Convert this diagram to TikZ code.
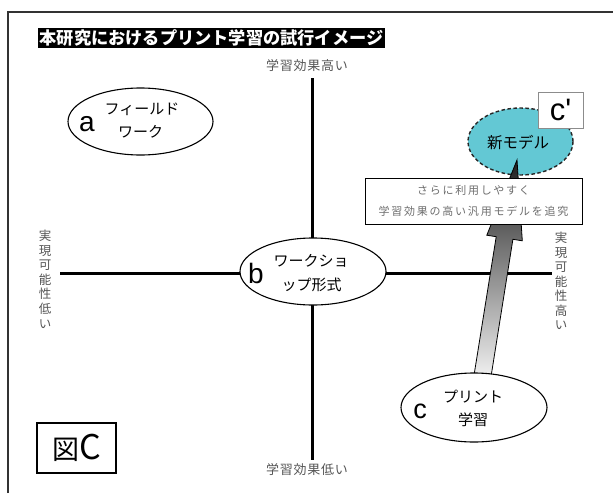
\documentclass[tikz,border=0pt]{standalone}
\usepackage{fontspec}
\setmainfont{Liberation Sans}
\newfontfamily\arial{Liberation Sans}
\newfontfamily\jp{Noto Sans CJK JP}
\newfontfamily\jpax[LetterSpace=6]{Noto Sans CJK JP}
\newfontfamily\jpsp[LetterSpace=16]{Noto Sans CJK JP}
\usetikzlibrary{shapes.geometric}
\definecolor{tealfill}{RGB}{99,200,212}
\definecolor{lblgray}{RGB}{85,85,85}
\definecolor{boxgray}{RGB}{110,110,110}
\newcommand\setfs[1]{\fontsize{#1}{#1}\selectfont}
\begin{document}
\begin{tikzpicture}[x=1pt,y=-1pt,
  oval/.style={ellipse, draw=black, line width=1.1pt, fill=white, inner sep=0pt},
  letter/.style={font=\arial\setfs{28}, inner sep=0pt},
  kana/.style={font=\jp\setfs{15}, inner sep=0pt},
  axlabel/.style={font=\jpax\setfs{13}, text=lblgray, inner sep=0pt},
  vlabel/.style={font=\jp\fontsize{12.5}{14.6}\selectfont, text=lblgray, align=center, inner sep=0pt},
  axis/.style={line width=3pt, draw=black}]
\useasboundingbox (0,0) rectangle (613,493);
% frame
\coordinate (fbl) at (8,493);
\coordinate (ftl) at (8,12);
\coordinate (ftr) at (613,12);
\draw[line width=1.4pt, draw=black!80] (fbl) -- (ftl) -- (ftr);
% title
\node[fill=black, text=white, font=\jp\bfseries\setfs{17.2}, inner xsep=1.5pt, inner ysep=1.5pt, anchor=west] (title) at (38,38) {本研究におけるプリント学習の試行イメージ};
% axes
\coordinate (vt) at (312,78);
\coordinate (vb) at (312,460);
\coordinate (hl) at (60,273);
\coordinate (hr) at (552,273);
\draw[axis] (vt) -- (vb);
\draw[axis] (hl) -- (hr);
% axis labels
\node[axlabel] (hi) at (307,66) {学習効果高い};
\node[axlabel] (lo) at (307,470) {学習効果低い};
\node[vlabel] (lowf) at (45,279) {実\\現\\可\\能\\性\\低\\い};
\node[vlabel] (highf) at (561,281) {実\\現\\可\\能\\性\\高\\い};
% ellipse a
\node[oval, minimum width=145pt, minimum height=67pt] (ea) at (140.5,121.5) {};
\node[letter] (la) at (87,124) {a};
\node[kana] (ta1) at (142,109) {フィールド};
\node[kana] (ta2) at (140.5,132) {ワーク};
% ellipse b
\node[oval, minimum width=146pt, minimum height=67pt] (eb) at (313,271.5) {};
\node[letter] (lb) at (256,273.5) {b};
\node[kana] (tb1) at (311,261) {ワークショ};
\node[kana] (tb2) at (311.5,285) {ップ形式};
% new model
\node[ellipse, draw=black!85, line width=1.4pt, dash pattern=on 3.5pt off 2.5pt, fill=tealfill, minimum width=105pt, minimum height=67pt, inner sep=0pt] (enew) at (520.5,141.5) {};
\node[font=\jp\setfs{15.5}, inner sep=0pt] (tnew) at (518,143) {新モデル};
% arrow
\shadedraw[top color=black!88, bottom color=black!3, draw=black, line width=0.8pt]
  (489.8,384.2) -- (473.0,381.6) -- (496.2,236.7) -- (486.8,235.2) -- (517,160)
  -- (522.3,240.8) -- (512.9,239.3) -- cycle;
% ellipse c
\node[oval, minimum width=146pt, minimum height=69pt] (ec) at (474,407.5) {};
\node[letter, font=\arial\setfs{27}] (lc) at (420,411) {c};
\node[kana] (tc1) at (473,397) {プリント};
\node[kana] (tc2) at (473,420) {学習};
% text box
\node[rectangle, draw=black, line width=1pt, fill=white, minimum width=217pt, minimum height=46pt, inner sep=0pt, align=center, font=\jpsp\fontsize{11}{20.5}\selectfont, text=boxgray] (tbox) at (473.5,201) {さらに利用しやすく\\学習効果の高い汎用モデルを追究};
% c' box
\node[rectangle, draw=black!45, line width=0.8pt, fill=white, minimum width=45pt, minimum height=36pt, inner sep=0pt, font=\arial\setfs{31}] (cp) at (560.5,110) {c'};
% figure label
\node[rectangle, draw=black, line width=2pt, fill=white, minimum width=79pt, minimum height=50pt, inner sep=0pt, font=\jp] (fig) at (76.5,448) {\setfs{27}図\setfs{34}C};
\end{tikzpicture}
\end{document}
